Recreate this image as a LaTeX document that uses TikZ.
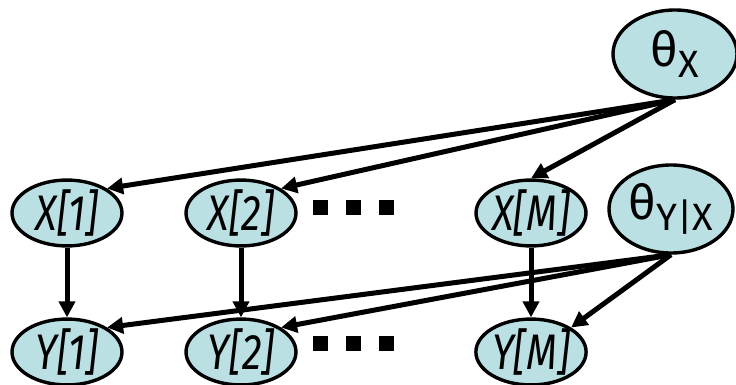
\documentclass[tikz,border=0pt]{standalone}
\usepackage{fontspec}
\setmainfont{Fira Sans}
\usetikzlibrary{positioning,arrows.meta,shapes.geometric}
\definecolor{varfill}{RGB}{186,224,228}
\newcommand\narrow[1]{\scalebox{0.8}[1]{#1}}

\begin{document}
\begin{tikzpicture}[x=1pt, y=-1pt, on grid, node distance=174pt,
    var/.style={ellipse, draw, line width=3.4pt, fill=varfill, inner sep=0pt,
      minimum width=110pt, minimum height=56pt,
      font=\fontsize{50}{50}\selectfont\itshape},
    param/.style={var, minimum width=124pt, minimum height=88pt, font=\upshape},
    dep/.style={draw, line width=5pt, -{Triangle[length=16pt,width=16pt]}}]
  \useasboundingbox (0,0) rectangle (736,385);
  % parameters
  \node[param] (thx) at (675,54) {{\fontsize{48}{48}\selectfont θ}\raisebox{-11pt}{\fontsize{38}{38}\selectfont X}};%
  \node[param] (thyx) at (671,209) {{\fontsize{48}{48}\selectfont θ}\raisebox{-11pt}{\fontsize{38}{38}\selectfont Y|X}};%
  % instances
  \node[var] (x1) at (67,213) {\narrow{X[1]}};%
  \node[var, right=of x1] (x2) {\narrow{X[2]}};%
  \node[var, right=290pt of x2] (xm) {\narrow{X[M]}};%
  \node[var, below=139pt of x1] (y1) {\narrow{Y[1]}};%
  \node[var, below=139pt of x2] (y2) {\narrow{Y[2]}};%
  \node[var, below=139pt of xm] (ym) {\narrow{Y[M]}};%
  % dots between the instances
  \foreach \row in {200,336}
    \foreach \col in {313,346,379}
      \fill (\col,\row) rectangle ++(15,15);
  \draw[dep] (thx.south) -- (x1.north east);
  \draw[dep] (thx.south) -- (x2.north east);
  \draw[dep] (thx.south) -- (xm.north);
  \draw[dep] (thyx.south) -- (y1.north east);
  \draw[dep] (thyx.south) -- (y2.north east);
  \draw[dep] (thyx.south) -- (ym.north east);
  \foreach \i in {1,2,m}
    \draw[dep] (x\i.south) -- (y\i.north);
\end{tikzpicture}
\end{document}
